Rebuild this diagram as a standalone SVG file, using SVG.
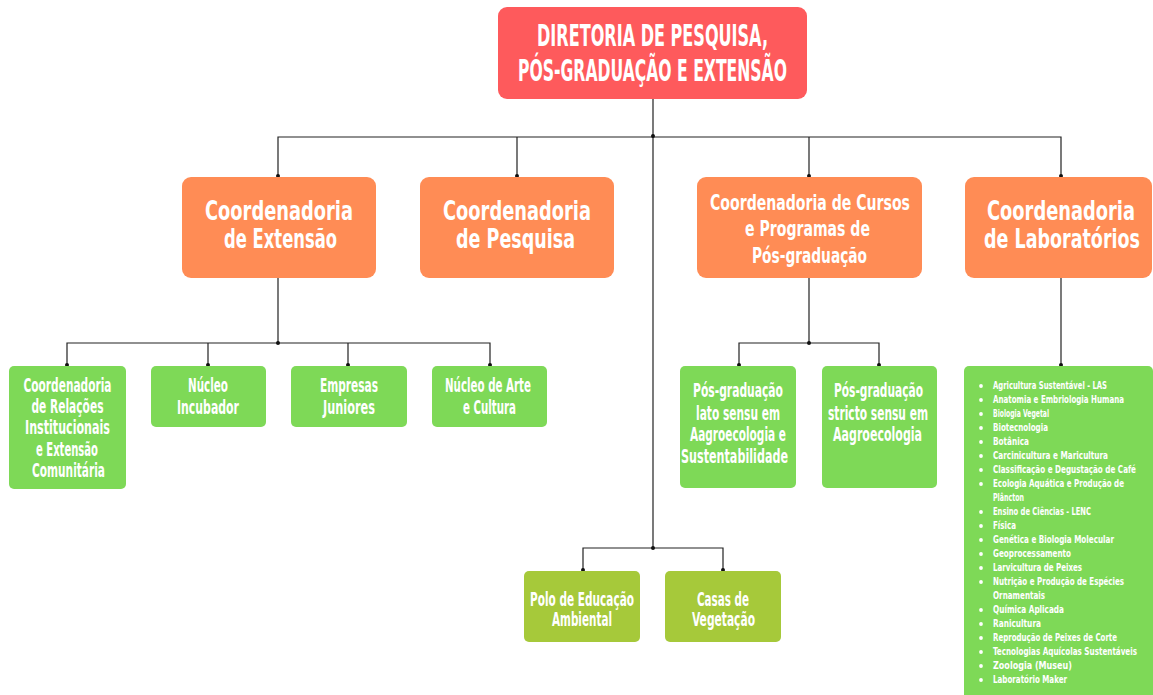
<svg xmlns="http://www.w3.org/2000/svg" width="1153" height="695" viewBox="0 0 1153 695">
<defs>
<style>
.t{font-family:'DejaVu Sans Condensed','Liberation Sans Narrow','Liberation Sans',sans-serif;font-weight:bold;fill:#fff;text-anchor:middle}
.g{font-size:19px}
.red{fill:#FE5A5C}
.org{fill:#FF8C55}
.grn{fill:#7ED957}
.lim{fill:#A6C93A}
.ln{fill:none;stroke:#222;stroke-width:1.2}
.dot{fill:#111}
.bul{fill:#fff}
.li{font-family:'DejaVu Sans Condensed','Liberation Sans Narrow','Liberation Sans',sans-serif;font-weight:bold;fill:#fff;font-size:10.5px}
</style>
</defs>
<rect width="1153" height="695" fill="#fff"/>
<g id="connectors">
<path class="ln" d="M653,99 V548 M278,177 V137 H1061 V177 M517,137 V177 M809,137 V177"/>
<path class="ln" d="M278,278 V343 M67,366 V343 H490 V366 M208,343 V366 M348,343 V366"/>
<path class="ln" d="M809,278 V343 M739,366 V343 H879 V366"/>
<path class="ln" d="M1061,278 V366"/>
<path class="ln" d="M583,571 V548 H723 V571"/>
<circle class="dot" cx="653" cy="136" r="2"/>
<circle class="dot" cx="278" cy="176" r="2"/><circle class="dot" cx="517" cy="176" r="2"/><circle class="dot" cx="809" cy="176" r="2"/><circle class="dot" cx="1061" cy="176" r="2"/>
<circle class="dot" cx="278" cy="343" r="2"/>
<circle class="dot" cx="67" cy="365" r="2"/><circle class="dot" cx="208" cy="365" r="2"/><circle class="dot" cx="348" cy="365" r="2"/><circle class="dot" cx="490" cy="365" r="2"/>
<circle class="dot" cx="809" cy="343" r="2"/><circle class="dot" cx="739" cy="365" r="2"/><circle class="dot" cx="879" cy="365" r="2"/>
<circle class="dot" cx="1061" cy="365" r="2"/>
<circle class="dot" cx="653" cy="548" r="2"/><circle class="dot" cx="583" cy="570" r="2"/><circle class="dot" cx="723" cy="570" r="2"/>
</g>
<g id="diretoria">
<rect class="red" x="498" y="7" width="309" height="92" rx="9"/>
<text class="t" x="652.5" y="46" font-size="30" textLength="231" lengthAdjust="spacingAndGlyphs">DIRETORIA DE PESQUISA,</text>
<text class="t" x="652.5" y="81" font-size="30" textLength="269" lengthAdjust="spacingAndGlyphs">PÓS-GRADUAÇÃO E EXTENSÃO</text>
</g>
<g id="coord-extensao">
<rect class="org" x="182" y="177" width="194" height="101" rx="9"/>
<text class="t" x="279" y="220" font-size="26" textLength="148" lengthAdjust="spacingAndGlyphs">Coordenadoria</text>
<text class="t" x="280.5" y="248" font-size="26" textLength="113" lengthAdjust="spacingAndGlyphs">de Extensão</text>
</g>
<g id="coord-pesquisa">
<rect class="org" x="420" y="177" width="194" height="101" rx="9"/>
<text class="t" x="517" y="220" font-size="26" textLength="148" lengthAdjust="spacingAndGlyphs">Coordenadoria</text>
<text class="t" x="515.5" y="248" font-size="26" textLength="119" lengthAdjust="spacingAndGlyphs">de Pesquisa</text>
</g>
<g id="coord-cursos">
<rect class="org" x="697" y="177" width="225" height="101" rx="9"/>
<text class="t" x="810" y="210" font-size="21" textLength="200" lengthAdjust="spacingAndGlyphs">Coordenadoria de Cursos</text>
<text class="t" x="807.5" y="236" font-size="21" textLength="125" lengthAdjust="spacingAndGlyphs">e Programas de</text>
<text class="t" x="809.5" y="263" font-size="21" textLength="115" lengthAdjust="spacingAndGlyphs">Pós-graduação</text>
</g>
<g id="coord-laboratorios">
<rect class="org" x="965" y="177" width="187" height="101" rx="9"/>
<text class="t" x="1061" y="220" font-size="26" textLength="148" lengthAdjust="spacingAndGlyphs">Coordenadoria</text>
<text class="t" x="1062" y="248" font-size="26" textLength="156" lengthAdjust="spacingAndGlyphs">de Laboratórios</text>
</g>
<g id="coord-relacoes">
<rect class="grn" x="9" y="366" width="117" height="123" rx="5"/>
<text class="t g" x="67.5" y="392" textLength="88" lengthAdjust="spacingAndGlyphs">Coordenadoria</text>
<text class="t g" x="67.5" y="413" textLength="72" lengthAdjust="spacingAndGlyphs">de Relações</text>
<text class="t g" x="67.5" y="434" textLength="85" lengthAdjust="spacingAndGlyphs">Institucionais</text>
<text class="t g" x="67" y="456" textLength="62" lengthAdjust="spacingAndGlyphs">e Extensão</text>
<text class="t g" x="68.5" y="477" textLength="73" lengthAdjust="spacingAndGlyphs">Comunitária</text>
</g>
<g id="nucleo-incubador">
<rect class="grn" x="151" y="366" width="115" height="61" rx="5"/>
<text class="t g" x="208" y="392" textLength="40" lengthAdjust="spacingAndGlyphs">Núcleo</text>
<text class="t g" x="208" y="414" textLength="62" lengthAdjust="spacingAndGlyphs">Incubador</text>
</g>
<g id="empresas-juniores">
<rect class="grn" x="291" y="366" width="116" height="61" rx="5"/>
<text class="t g" x="349" y="392" textLength="58" lengthAdjust="spacingAndGlyphs">Empresas</text>
<text class="t g" x="349" y="414" textLength="52" lengthAdjust="spacingAndGlyphs">Juniores</text>
</g>
<g id="nucleo-arte">
<rect class="grn" x="432" y="366" width="115" height="61" rx="5"/>
<text class="t g" x="488" y="392" textLength="86" lengthAdjust="spacingAndGlyphs">Núcleo de Arte</text>
<text class="t g" x="489.5" y="414" textLength="53" lengthAdjust="spacingAndGlyphs">e Cultura</text>
</g>
<g id="pos-lato">
<rect class="grn" x="680" y="366" width="116" height="122" rx="5"/>
<text class="t g" x="738" y="397" textLength="90" lengthAdjust="spacingAndGlyphs">Pós-graduação</text>
<text class="t g" x="738" y="420" textLength="84" lengthAdjust="spacingAndGlyphs">lato sensu em</text>
<text class="t g" x="738" y="441" textLength="96" lengthAdjust="spacingAndGlyphs">Aagroecologia e</text>
<text class="t g" x="734.5" y="463" textLength="107" lengthAdjust="spacingAndGlyphs">Sustentabilidade</text>
</g>
<g id="pos-stricto">
<rect class="grn" x="822" y="366" width="115" height="122" rx="5"/>
<text class="t g" x="878.5" y="397" textLength="89" lengthAdjust="spacingAndGlyphs">Pós-graduação</text>
<text class="t g" x="878" y="420" textLength="100" lengthAdjust="spacingAndGlyphs">stricto sensu em</text>
<text class="t g" x="877.5" y="441" textLength="89" lengthAdjust="spacingAndGlyphs">Aagroecologia</text>
</g>
<g id="polo">
<rect class="lim" x="524" y="571" width="116" height="71" rx="5"/>
<text class="t g" x="582" y="606" textLength="104" lengthAdjust="spacingAndGlyphs">Polo de Educação</text>
<text class="t g" x="582" y="626" textLength="60" lengthAdjust="spacingAndGlyphs">Ambiental</text>
</g>
<g id="casas">
<rect class="lim" x="665" y="571" width="116" height="71" rx="5"/>
<text class="t g" x="723" y="606" textLength="52" lengthAdjust="spacingAndGlyphs">Casas de</text>
<text class="t g" x="723.5" y="626" textLength="63" lengthAdjust="spacingAndGlyphs">Vegetação</text>
</g>
<g id="laboratorios">
<rect class="grn" x="964" y="366" width="189" height="340" rx="5"/>
<g class="bul">
<circle cx="981" cy="386" r="1.9"/><circle cx="981" cy="400" r="1.9"/><circle cx="981" cy="414" r="1.9"/><circle cx="981" cy="428" r="1.9"/><circle cx="981" cy="442" r="1.9"/><circle cx="981" cy="456" r="1.9"/><circle cx="981" cy="470" r="1.9"/><circle cx="981" cy="484" r="1.9"/><circle cx="981" cy="512" r="1.9"/><circle cx="981" cy="526" r="1.9"/><circle cx="981" cy="540" r="1.9"/><circle cx="981" cy="554" r="1.9"/><circle cx="981" cy="568" r="1.9"/><circle cx="981" cy="582" r="1.9"/><circle cx="981" cy="610" r="1.9"/><circle cx="981" cy="624" r="1.9"/><circle cx="981" cy="638" r="1.9"/><circle cx="981" cy="652" r="1.9"/><circle cx="981" cy="666" r="1.9"/><circle cx="981" cy="680" r="1.9"/>
</g>
<text class="li" x="993" y="389" textLength="114" lengthAdjust="spacingAndGlyphs">Agricultura Sustentável - LAS</text>
<text class="li" x="993" y="403" textLength="131" lengthAdjust="spacingAndGlyphs">Anatomia e Embriologia Humana</text>
<text class="li" x="993" y="417" textLength="56" lengthAdjust="spacingAndGlyphs">Biologia Vegetal</text>
<text class="li" x="993" y="431" textLength="55" lengthAdjust="spacingAndGlyphs">Biotecnologia</text>
<text class="li" x="993" y="445" textLength="36" lengthAdjust="spacingAndGlyphs">Botânica</text>
<text class="li" x="993" y="459" textLength="115" lengthAdjust="spacingAndGlyphs">Carcinicultura e Maricultura</text>
<text class="li" x="993" y="473" textLength="143" lengthAdjust="spacingAndGlyphs">Classificação e Degustação de Café</text>
<text class="li" x="993" y="487" textLength="131" lengthAdjust="spacingAndGlyphs">Ecologia Aquática e Produção de</text>
<text class="li" x="993" y="501" textLength="31" lengthAdjust="spacingAndGlyphs">Plâncton</text>
<text class="li" x="993" y="515" textLength="98" lengthAdjust="spacingAndGlyphs">Ensino de Ciências - LENC</text>
<text class="li" x="993" y="529" textLength="23" lengthAdjust="spacingAndGlyphs">Física</text>
<text class="li" x="993" y="543" textLength="121" lengthAdjust="spacingAndGlyphs">Genética e Biologia Molecular</text>
<text class="li" x="993" y="557" textLength="78" lengthAdjust="spacingAndGlyphs">Geoprocessamento</text>
<text class="li" x="993" y="571" textLength="89" lengthAdjust="spacingAndGlyphs">Larvicultura de Peixes</text>
<text class="li" x="993" y="585" textLength="131" lengthAdjust="spacingAndGlyphs">Nutrição e Produção de Espécies</text>
<text class="li" x="993" y="599" textLength="52" lengthAdjust="spacingAndGlyphs">Ornamentais</text>
<text class="li" x="993" y="613" textLength="71" lengthAdjust="spacingAndGlyphs">Química Aplicada</text>
<text class="li" x="993" y="627" textLength="48" lengthAdjust="spacingAndGlyphs">Ranicultura</text>
<text class="li" x="993" y="641" textLength="124" lengthAdjust="spacingAndGlyphs">Reprodução de Peixes de Corte</text>
<text class="li" x="993" y="655" textLength="144" lengthAdjust="spacingAndGlyphs">Tecnologias Aquícolas Sustentáveis</text>
<text class="li" x="993" y="669" textLength="79" lengthAdjust="spacingAndGlyphs">Zoologia (Museu)</text>
<text class="li" x="993" y="683" textLength="74" lengthAdjust="spacingAndGlyphs">Laboratório Maker</text>
</g>
</svg>
